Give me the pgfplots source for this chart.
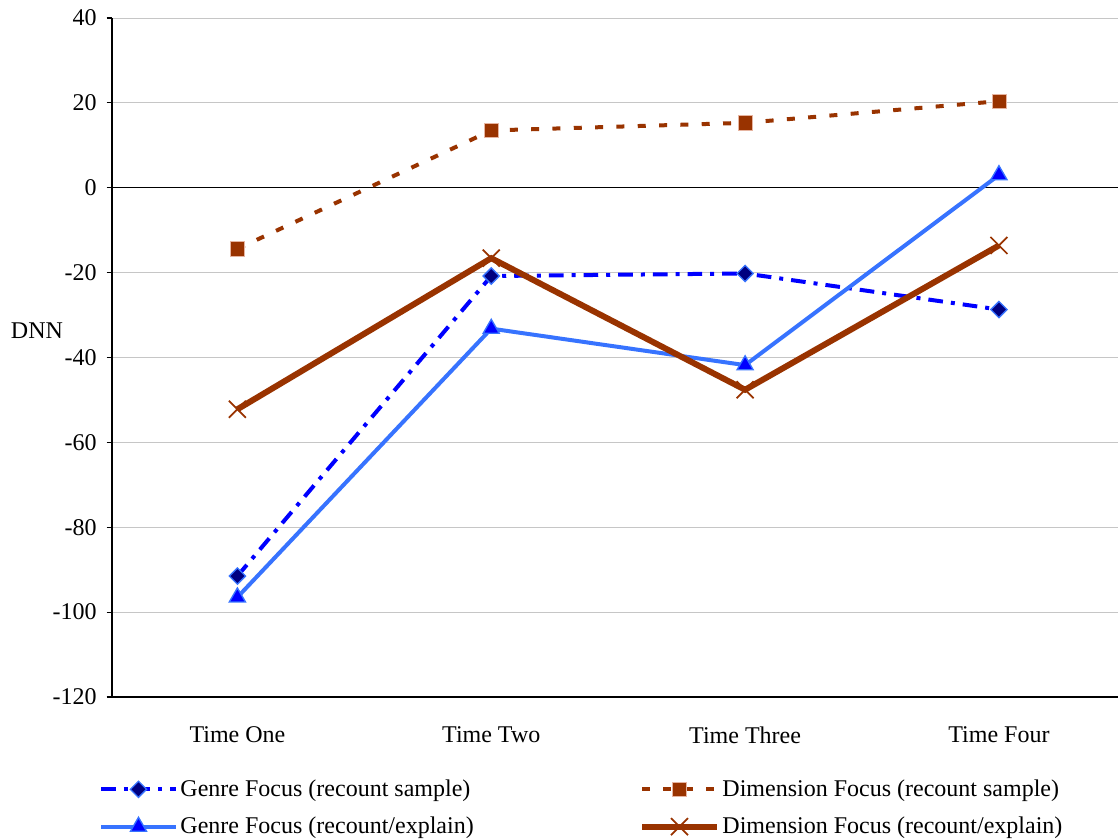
\documentclass[border=0pt]{standalone}
\usepackage{fontspec}
\setmainfont{Liberation Serif}
\usepackage{pgfplots}
\pgfplotsset{compat=1.18}
\definecolor{dblue}{RGB}{0,0,255}
\definecolor{lblue}{RGB}{55,115,255}
\definecolor{navy}{RGB}{0,0,128}
\definecolor{brn}{RGB}{153,51,0}
\definecolor{brnedge}{RGB}{230,180,160}
\begin{document}
\begin{tikzpicture}
\path[use as bounding box] (-84pt,-106.5pt) rectangle (754.5pt,522.75pt);
\begin{axis}[
  at={(0,0)}, anchor=south west,
  scale only axis, width=754.5pt, height=509.25pt,
  xmin=-0.494, xmax=3.469, ymin=-120, ymax=40,
  axis lines*=left,
  axis line style={black, line width=0.8pt},
  xtick={0,1,2,3},
  xticklabels={Time One,Time Two,Time Three,Time Four},
  ytick={-120,-100,-80,-60,-40,-20,0,20,40},
  ymajorgrids,
  grid style={gray!45, line width=0.7pt},
  extra y ticks={0},
  extra y tick labels={},
  extra y tick style={grid style={black, line width=1.1pt}, major tick length=0pt},
  tick align=outside,
  major tick length=4pt,
  x tick style={draw=none},
  y tick style={black, line width=0.8pt},
  tick label style={font=\fontsize{18}{21}\selectfont},
  /pgf/number format/assume math mode=true,
  yticklabel style={xshift=-4pt},
  xticklabel style={yshift=-15pt},
  ylabel={DNN},
  ylabel style={rotate=-90, at={(rel axis cs:-0.0746,0.54)}, anchor=center, font=\fontsize{18}{21}\selectfont},
  clip=false,
  legend columns=2,
  legend cell align=left,
  legend style={at={(rel axis cs:-0.017,-0.114)}, anchor=north west, draw=none, fill=none,
    font=\fontsize{18}{21}\selectfont, row sep=10pt},
  legend image code/.code={\draw[mark repeat=2,mark phase=2] plot coordinates {(0pt,0pt) (28pt,0pt) (56pt,0pt)};},
]
\addplot[dblue, line width=3pt, dash pattern=on 11pt off 6pt on 3pt off 6pt,
  mark=square*, mark size=4.3pt, mark options={solid, rotate=45, fill=navy, draw=lblue, line width=1pt}]
  coordinates {(0,-91.5) (1,-20.8) (2,-20.2) (3,-28.7)};
\addlegendentry{\makebox[342pt][l]{Genre Focus (recount sample)}}
\addplot[brn, line width=3pt, dash pattern=on 6pt off 10pt,
  mark=square*, mark size=5.3pt, mark options={solid, fill=brn, draw=brnedge, line width=0.5pt}]
  coordinates {(0,-14.4) (1,13.5) (2,15.3) (3,20.4)};
\addlegendentry{Dimension Focus (recount sample)}
\addplot[lblue, line width=3pt,
  mark=triangle*, mark size=7pt, mark options={solid, fill=dblue, draw=lblue, line width=1pt}]
  coordinates {(0,-96.5) (1,-33.2) (2,-41.8) (3,3)};
\addlegendentry{\makebox[342pt][l]{Genre Focus (recount/explain)}}
\addplot[brn, line width=4.5pt,
  mark=x, mark size=9pt, mark options={solid, line width=1.3pt}]
  coordinates {(0,-52.2) (1,-16.6) (2,-47.6) (3,-13.6)};
\addlegendentry{Dimension Focus (recount/explain)}
\end{axis}
\end{tikzpicture}
\end{document}
